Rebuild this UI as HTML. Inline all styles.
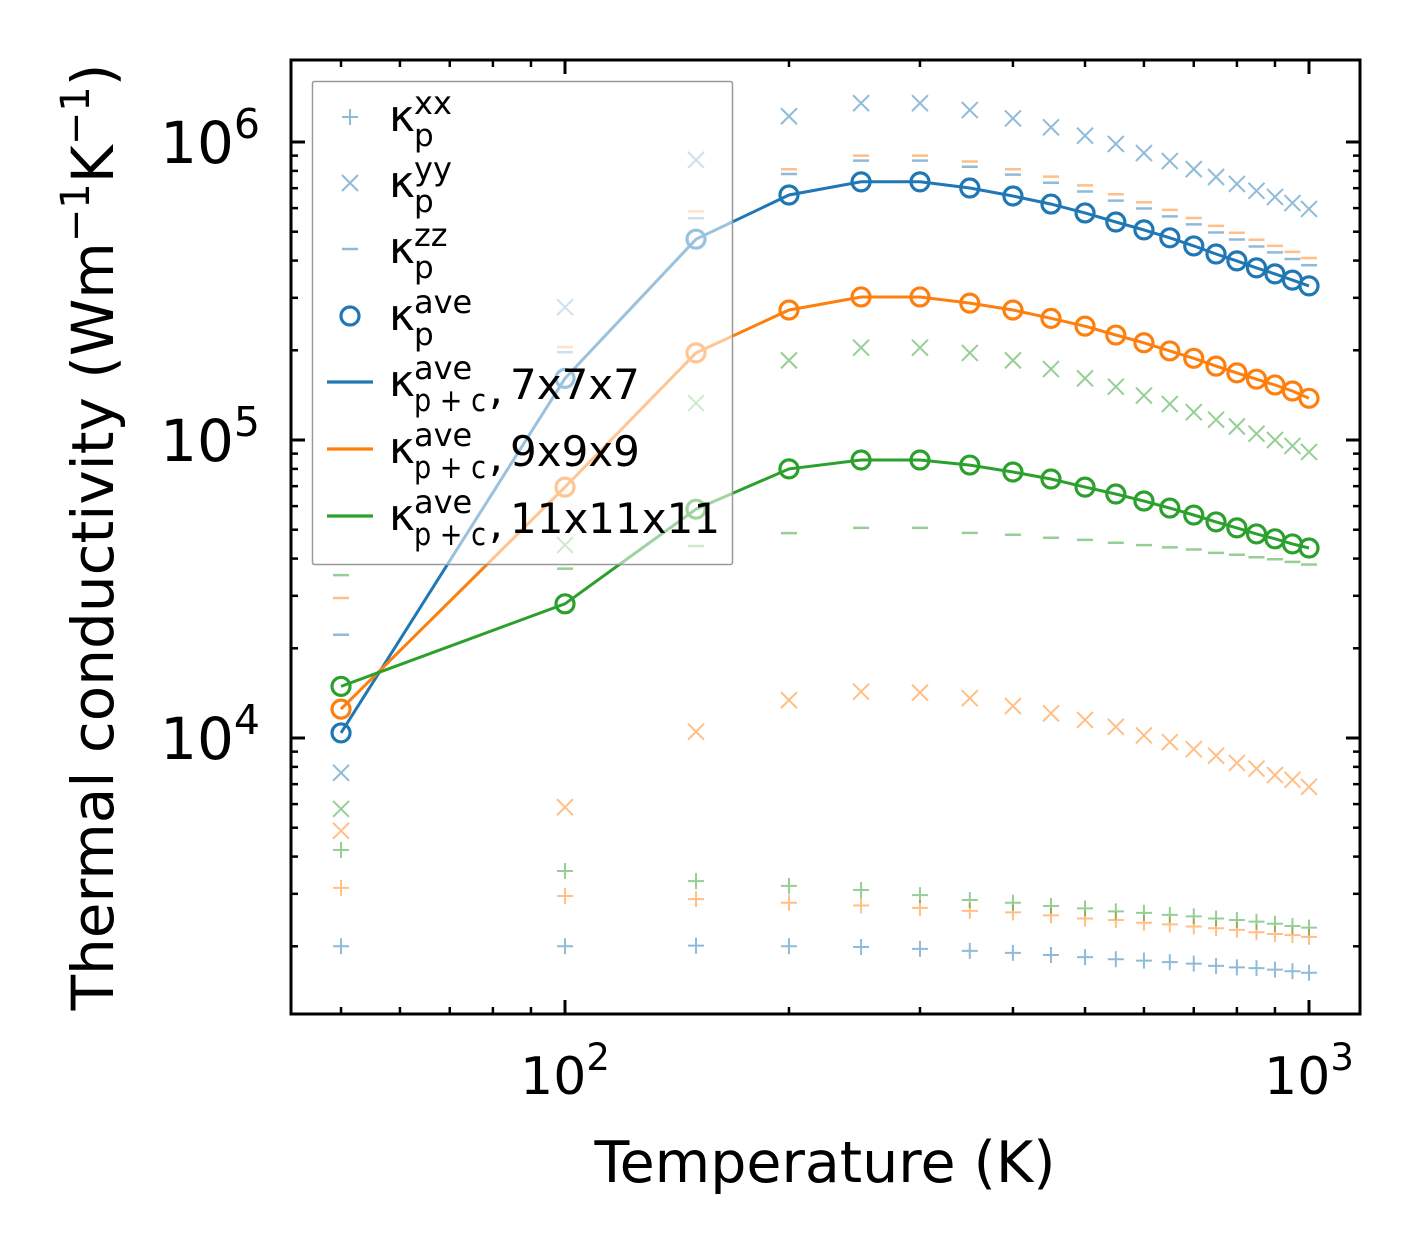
<!DOCTYPE html>
<html><head><meta charset="utf-8"><style>
html,body{margin:0;padding:0;background:#fff;}
svg text{font-family:"DejaVu Sans","Liberation Sans",sans-serif;}
</style></head><body>
<svg id="chart" width="1422" height="1254" viewBox="0 0 1422 1254" xmlns="http://www.w3.org/2000/svg">
<rect width="1422" height="1254" fill="#fff"/>
<g id="plot"></g>
<g id="axes"></g>
<g id="legend"></g>
</svg>
<script>
const temps=[50,100,150,200,250,300,350,400,450,500,550,600,650,700,750,800,850,900,950,1000];
const blueAve=[10400,161000,472000,664000,735000,735000,701000,659000,619000,578000,539000,507000,477000,448000,421000,399000,378000,361000,344000,329000];
const orangeAve=[12500,69500,196000,273000,302000,302000,288000,273000,256000,241000,225000,212000,199000,188000,177000,168000,160000,153000,146000,138000];
const greenAve=[14900,28200,58600,80000,85700,85700,82400,78100,74000,69500,65900,62400,59100,56000,53100,50700,48400,46600,44800,43400];
const blueXX=[2000,2000,2010,2000,1990,1960,1930,1900,1870,1840,1810,1790,1770,1750,1720,1700,1690,1670,1650,1630];
const blueYY=[7640,279000,871000,1220000,1350000,1350000,1280000,1200000,1120000,1050000,985000,918000,863000,811000,763000,723000,686000,654000,624000,596000];
const blueZZ=[22200,197000,555000,781000,866000,866000,826000,777000,730000,682000,636000,598000,563000,529000,497000,471000,446000,426000,405000,386000];
const orangeXX=[3140,2950,2880,2800,2740,2690,2630,2600,2540,2480,2450,2400,2370,2330,2300,2270,2230,2200,2180,2150];
const orangeYY=[4880,5860,10500,13400,14300,14200,13600,12800,12100,11500,10900,10200,9690,9170,8720,8250,7890,7510,7240,6860];
const orangeZZ=[29500,205000,585000,810000,900000,900000,860000,810000,765000,715000,668000,628000,592000,556000,523000,496000,470000,448000,428000,408000];
const greenXX=[4210,3580,3310,3190,3090,2970,2860,2800,2730,2680,2620,2590,2550,2520,2480,2450,2420,2380,2340,2310];
const greenYY=[5780,44400,133000,185000,204000,204000,196000,185000,173000,161000,151000,141000,132000,124000,117000,111000,105000,100000,95500,91200];
const greenZZ=[35200,37000,44100,48700,50700,50700,48800,48100,47000,46200,45200,44400,43600,42900,41800,41200,40400,39800,39000,38200];
const yTickLabels=["4","5","6"];
const xTickLabels=["2","3"];

const L=291,R=1360,T=60,B=1014;
const X0=565, XD=744, Y0=142, YD=298;
function xs(v){return X0+(Math.log10(v)-2)*XD;}
function ys(v){return Y0+(6-Math.log10(v))*YD;}
const NS="http://www.w3.org/2000/svg";
function mk(tag,attrs,parent){const e=document.createElementNS(NS,tag);for(const k in attrs)e.setAttribute(k,attrs[k]);parent.appendChild(e);return e;}
const plot=document.getElementById('plot'), axes=document.getElementById('axes'), leg=document.getElementById('legend');
const cp=mk('clipPath',{id:'clip'},plot);
mk('rect',{x:L,y:T,width:R-L,height:B-T},cp);
const g=mk('g',{'clip-path':'url(#clip)'},plot);

function drawMarker(par,type,x,y,color,op){
  const s=8;
  let e;
  if(type==='plus'){e=mk('path',{d:`M${x-s} ${y}H${x+s}M${x} ${y-s}V${y+s}`,stroke:color,'stroke-width':2,fill:'none','stroke-opacity':op},par);}
  else if(type==='x'){e=mk('path',{d:`M${x-s} ${y-s}L${x+s} ${y+s}M${x-s} ${y+s}L${x+s} ${y-s}`,stroke:color,'stroke-width':2,fill:'none','stroke-opacity':op},par);}
  else if(type==='dash'){e=mk('path',{d:`M${x-s} ${y}H${x+s}`,stroke:color,'stroke-width':2.5,fill:'none','stroke-opacity':op},par);}
  else {e=mk('circle',{cx:x,cy:y,r:9,stroke:color,'stroke-width':3.2,fill:'none','stroke-opacity':op},par);}
  return e;
}
const series=[
 {c:'#1f77b4',xx:blueXX,yy:blueYY,zz:blueZZ,ave:blueAve,n:'blue'},
 {c:'#ff7f0e',xx:orangeXX,yy:orangeYY,zz:orangeZZ,ave:orangeAve,n:'orange'},
 {c:'#2ca02c',xx:greenXX,yy:greenYY,zz:greenZZ,ave:greenAve,n:'green'}];
series.forEach(s=>{
  temps.forEach((t,i)=>{
    let e=drawMarker(g,'plus',xs(t),ys(s.xx[i]),s.c,0.5);
    
    
    e=drawMarker(g,'x',xs(t),ys(s.yy[i]),s.c,0.5);
    
    
    e=drawMarker(g,'dash',xs(t),ys(s.zz[i]),s.c,0.5);
    
    
  });
});
series.forEach(s=>{
  const d=temps.map((t,i)=>(i?'L':'M')+xs(t).toFixed(1)+' '+ys(s.ave[i]).toFixed(1)).join('');
  const p=mk('path',{d:d,stroke:s.c,'stroke-width':3,fill:'none'},g);
  
  
  temps.forEach((t,i)=>{
    const e=drawMarker(g,'circle',xs(t),ys(s.ave[i]),s.c,1);
    
    
  });
});

const fr=mk('rect',{x:L,y:T,width:R-L,height:B-T,fill:'none',stroke:'#000','stroke-width':3},axes);


for(let k=3;k<=6;k++){
  for(let m=1;m<10;m++){
    const v=m*Math.pow(10,k);const y=ys(v);
    if(y<T||y>B)continue;
    const len=m===1?14:7;
    mk('line',{x1:L,x2:L+len,y1:y,y2:y,stroke:'#000','stroke-width':m===1?3:2.5},axes);
    mk('line',{x1:R,x2:R-len,y1:y,y2:y,stroke:'#000','stroke-width':m===1?3:2.5},axes);
  }
}
yTickLabels.forEach(e=>{
  const y=ys(Math.pow(10,+e));
  const t=mk('text',{x:L-31,y:y+21,'text-anchor':'end','font-size':58},axes);
  t.innerHTML='10<tspan dy="-25" font-size="41">'+e+'</tspan>';
  
  
});
for(let k=1;k<=3;k++){
  for(let m=1;m<10;m++){
    const v=m*Math.pow(10,k);const x=xs(v);
    if(x<L||x>R)continue;
    const len=m===1?14:7;
    mk('line',{x1:x,x2:x,y1:B,y2:B-len,stroke:'#000','stroke-width':m===1?3:2.5},axes);
    mk('line',{x1:x,x2:x,y1:T,y2:T+len,stroke:'#000','stroke-width':m===1?3:2.5},axes);
  }
}
xTickLabels.forEach(e=>{
  const x=xs(Math.pow(10,+e));
  const t=mk('text',{x:x,y:1094,'text-anchor':'middle','font-size':52},axes);
  t.innerHTML='10<tspan dy="-24" font-size="37">'+e+'</tspan>';
  
  
});
let xt=mk('text',{x:825,y:1182,'text-anchor':'middle','font-size':57},axes);
xt.textContent='Temperature (K)';


let yt=mk('text',{x:0,y:0,'text-anchor':'middle','font-size':58,transform:'translate(113,537) rotate(-90)'},axes);
yt.innerHTML='Thermal conductivity (Wm<tspan dy="-24" font-size="40">−1</tspan><tspan dy="24">K</tspan><tspan dy="-24" font-size="40">−1</tspan><tspan dy="24">)</tspan>';



const lb=mk('rect',{x:312.5,y:81.5,width:420,height:483,fill:'#fff','fill-opacity':0.55,stroke:'#999','stroke-width':1.5,rx:2},leg);


const entries=[
 {type:'plus',c:'#1f77b4',op:0.5,sup:'xx',sub:'p',extra:'',y:117},
 {type:'x',c:'#1f77b4',op:0.5,sup:'yy',sub:'p',extra:'',y:183},
 {type:'dash',c:'#1f77b4',op:0.5,sup:'zz',sub:'p',extra:'',y:249},
 {type:'circle',c:'#1f77b4',op:1,sup:'ave',sub:'p',extra:'',y:316},
 {type:'line',c:'#1f77b4',sup:'ave',sub:'p + c',extra:'7x7x7',y:382},
 {type:'line',c:'#ff7f0e',sup:'ave',sub:'p + c',extra:'9x9x9',y:449},
 {type:'line',c:'#2ca02c',sup:'ave',sub:'p + c',extra:'11x11x11',y:516}];
entries.forEach(en=>{
  const eg=mk('g',{},leg);
  
  
  if(en.type==='line') mk('line',{x1:327,x2:373,y1:en.y,y2:en.y,stroke:en.c,'stroke-width':3.2},eg);
  else drawMarker(eg,en.type,350,en.y,en.c,en.op);
  mk('text',{x:389,y:en.y+14,'font-size':44},eg).textContent='κ';
  mk('text',{x:414,y:en.y-3,'font-size':32},eg).textContent=en.sup;
  const sb=mk('text',{x:414,y:en.y+29,'font-size':31},eg);
  sb.textContent=en.sub;
  if(en.sub.length>1){sb.setAttribute('textLength','72');sb.setAttribute('lengthAdjust','spacingAndGlyphs');}
  if(en.extra){
    mk('text',{x:489,y:en.y+22,'font-size':44},eg).textContent=',';
    mk('text',{x:510,y:en.y+17,'font-size':42},eg).textContent=en.extra;
  }
});
</script>
</body></html>
